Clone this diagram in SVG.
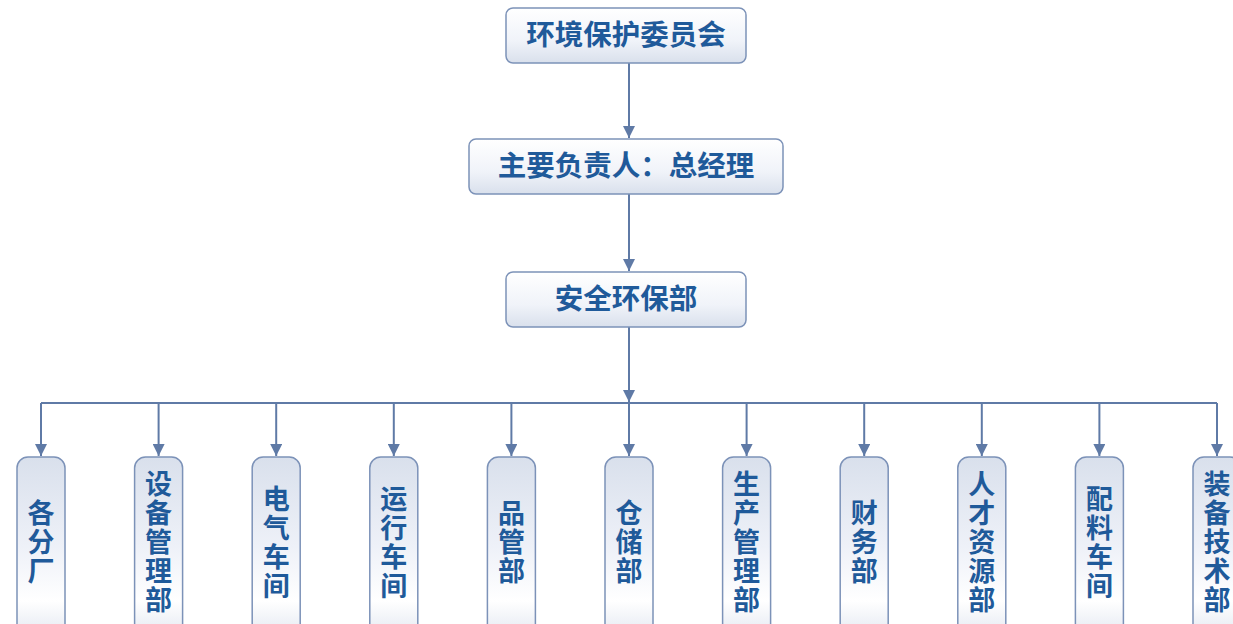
<svg xmlns="http://www.w3.org/2000/svg" width="1233" height="624" viewBox="0 0 1233 624">
<defs>
<linearGradient id="g" x1="0" y1="0" x2="0" y2="1">
<stop offset="0" stop-color="#ffffff"/>
<stop offset="0.6" stop-color="#f0f3f9"/>
<stop offset="1" stop-color="#d9e0ec"/>
</linearGradient>
<linearGradient id="gv" x1="0" y1="0" x2="0" y2="1">
<stop offset="0" stop-color="#d9e0ec"/>
<stop offset="0.5" stop-color="#eef1f8"/>
<stop offset="0.8" stop-color="#ffffff"/>
<stop offset="1" stop-color="#e3e8f1"/>
</linearGradient>
<marker id="ah" viewBox="0 0 10 10" refX="10" refY="5" markerWidth="12" markerHeight="12" markerUnits="userSpaceOnUse" orient="auto">
<path d="M0,0 L10,5 L0,10 Z" fill="#5f7aa6"/>
</marker>
</defs>
<style>
.box{fill:url(#g);stroke:#7c92b8;stroke-width:1.5}
.vbox{fill:url(#gv);stroke:#7c92b8;stroke-width:1.5}
.t{font-family:"Noto Sans CJK SC","Noto Sans",sans-serif;font-weight:bold;fill:#1f5a9a;font-size:28.5px;text-anchor:middle}
.v{font-family:"Noto Sans CJK SC","Noto Sans",sans-serif;font-weight:bold;fill:#1f5a9a;font-size:27px;text-anchor:middle;writing-mode:vertical-rl;text-orientation:upright;letter-spacing:2px}
.c{stroke:#5f7aa6;stroke-width:2;fill:none}
</style>
<rect width="1233" height="624" fill="#ffffff"/>
<g id="connectors">
<line class="c" x1="629" y1="63" x2="629" y2="138" marker-end="url(#ah)"/>
<line class="c" x1="629" y1="194" x2="629" y2="271" marker-end="url(#ah)"/>
<line class="c" x1="629" y1="327" x2="629" y2="402" marker-end="url(#ah)"/>
<line class="c" x1="41" y1="403" x2="1217" y2="403"/>
<line class="c" x1="41" y1="403" x2="41" y2="456" marker-end="url(#ah)"/>
<line class="c" x1="158.6" y1="403" x2="158.6" y2="456" marker-end="url(#ah)"/>
<line class="c" x1="276.2" y1="403" x2="276.2" y2="456" marker-end="url(#ah)"/>
<line class="c" x1="393.8" y1="403" x2="393.8" y2="456" marker-end="url(#ah)"/>
<line class="c" x1="511.4" y1="403" x2="511.4" y2="456" marker-end="url(#ah)"/>
<line class="c" x1="629" y1="403" x2="629" y2="456" marker-end="url(#ah)"/>
<line class="c" x1="746.6" y1="403" x2="746.6" y2="456" marker-end="url(#ah)"/>
<line class="c" x1="864.2" y1="403" x2="864.2" y2="456" marker-end="url(#ah)"/>
<line class="c" x1="981.8" y1="403" x2="981.8" y2="456" marker-end="url(#ah)"/>
<line class="c" x1="1099.4" y1="403" x2="1099.4" y2="456" marker-end="url(#ah)"/>
<line class="c" x1="1217" y1="403" x2="1217" y2="456" marker-end="url(#ah)"/>
</g>
<g id="n-committee">
<rect class="box" x="506" y="8" width="240" height="55" rx="7"/>
<text class="t" x="626" y="45">环境保护委员会</text>
</g>
<g id="n-manager">
<rect class="box" x="469" y="139" width="314" height="55" rx="7"/>
<text class="t" x="626" y="176">主要负责人：总经理</text>
</g>
<g id="n-safety">
<rect class="box" x="506" y="272" width="240" height="55" rx="7"/>
<text class="t" x="626" y="309">安全环保部</text>
</g>
<g id="n1">
<rect class="vbox" x="17" y="457" width="48" height="180" rx="11"/>
<text class="v" x="41" y="543">各分厂</text>
</g>
<g id="n2">
<rect class="vbox" x="134.6" y="457" width="48" height="180" rx="11"/>
<text class="v" x="158.6" y="543">设备管理部</text>
</g>
<g id="n3">
<rect class="vbox" x="252.2" y="457" width="48" height="180" rx="11"/>
<text class="v" x="276.2" y="543">电气车间</text>
</g>
<g id="n4">
<rect class="vbox" x="369.8" y="457" width="48" height="180" rx="11"/>
<text class="v" x="393.8" y="543">运行车间</text>
</g>
<g id="n5">
<rect class="vbox" x="487.4" y="457" width="48" height="180" rx="11"/>
<text class="v" x="511.4" y="543">品管部</text>
</g>
<g id="n6">
<rect class="vbox" x="605" y="457" width="48" height="180" rx="11"/>
<text class="v" x="629" y="543">仓储部</text>
</g>
<g id="n7">
<rect class="vbox" x="722.6" y="457" width="48" height="180" rx="11"/>
<text class="v" x="746.6" y="543">生产管理部</text>
</g>
<g id="n8">
<rect class="vbox" x="840.2" y="457" width="48" height="180" rx="11"/>
<text class="v" x="864.2" y="543">财务部</text>
</g>
<g id="n9">
<rect class="vbox" x="957.8" y="457" width="48" height="180" rx="11"/>
<text class="v" x="981.8" y="543">人才资源部</text>
</g>
<g id="n10">
<rect class="vbox" x="1075.4" y="457" width="48" height="180" rx="11"/>
<text class="v" x="1099.4" y="543">配料车间</text>
</g>
<g id="n11">
<rect class="vbox" x="1193" y="457" width="48" height="180" rx="11"/>
<text class="v" x="1217" y="543">装备技术部</text>
</g>
</svg>
